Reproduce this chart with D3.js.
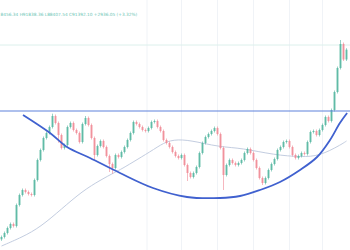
<!DOCTYPE html>
<html><head><meta charset="utf-8">
<script src="https://cdn.jsdelivr.net/npm/d3@7"></script>
<style>html,body{margin:0;padding:0;background:#fff;overflow:hidden}</style>
</head><body>
<svg id="c" width="350" height="250"></svg>
<script>
// ---- data ----
const closes = [35200,36400,37900,39100,38500,44800,47800,49300,48700,48100,47800,52300,58300,61300,64900,66400,68200,71500,69400,65800,
61900,62800,68200,69400,67300,66400,63700,69100,70900,68800,64900,59800,62500,64000,62200,59500,57100,55900,59800,59200,
60700,62200,64300,66400,69700,69100,68200,67300,67000,67900,69700,70000,68200,67000,64300,63400,62200,60700,59500,58900,
59800,56800,54400,53200,54400,56200,60400,63400,65200,66100,67000,67900,66100,61900,53800,56800,58300,57400,56800,57400,
58300,60400,61600,60400,58300,55900,52900,51400,52900,55300,57100,58600,61300,62200,63700,64000,62200,59800,58900,59500,
60400,60100,63700,66700,67000,65800,67300,68800,71200,70000,73300,78700,85900,93100,88456,91392];
const firstOpen = 34500;
const wickLows = [[36,54700],[37,54200],[62,52000],[74,49300],[87,50800],[19,63500],[31,58000]];
const wickHighs = [[17,72200],[28,71500],[113,94300],[115,91838]];
const maIdx = [0,7,13,20,27,33,38,40,45,51,55,60,67,73,80,91,100,106,113,115];
const maVal = [32500,35200,38200,43600,49000,52300,54700,55600,58300,61600,64000,64600,63400,62200,61900,59800,59200,59500,62800,64000];
const cupIdx = [7.17,16.17,21.83,29.5,39.5,50.5,61.83,72.83,79.5,86.17,92.83,99.5,105.2,109.5,112.8,115.2];
const cupVal = [71800,66400,62200,58900,54400,49900,47200,46900,47500,49300,51700,55300,59200,64300,69400,72400];
const neckline = 73000;
const priceLine = 92800;
const gridIdx = [48.5,60,72,84,96,107];
const header = "8456.34 H91838.36 L88407.54 C91392.10 +2936.05 (+3.32%)";

// ---- scales ----
const svg = d3.select("#c");
const x = d3.scaleLinear().domain([-0.5, 115.5]).range([0, 348]);
const y = d3.scaleLinear().domain([31300, 106300]).range([250, 0]);

// grid
svg.selectAll("line.grid").data(gridIdx).join("line")
  .attr("x1", d => x(d)).attr("x2", d => x(d)).attr("y1", 0).attr("y2", 250)
  .attr("stroke", "#f0f3f7").attr("stroke-width", 1);
svg.append("line").attr("x1", 0).attr("x2", 350).attr("y1", y(priceLine)).attr("y2", y(priceLine))
  .attr("stroke", "#dcf0ec").attr("stroke-width", 1);

// moving average
svg.append("path")
  .attr("d", d3.line().curve(d3.curveBasis).x(d => x(d[0])).y(d => y(d[1]))(maIdx.map((d, i) => [d, maVal[i]])))
  .attr("fill", "none").attr("stroke", "#c3cde0").attr("stroke-width", 1);

// candles
const lowMap = new Map(wickLows), highMap = new Map(wickHighs);
const candles = closes.map((c, i) => {
  const o = i === 0 ? firstOpen : closes[i - 1];
  return {i, o, c, hi: highMap.get(i), lo: lowMap.get(i)};
});
const up = "#52b59f", dn = "#f08894";
const g = svg.append("g");
g.selectAll("line.w").data(candles).join("line")
  .attr("x1", d => x(d.i)).attr("x2", d => x(d.i))
  .attr("y1", d => d.hi ? y(d.hi) : Math.min(y(d.o), y(d.c)) - 1.5)
  .attr("y2", d => d.lo ? y(d.lo) : Math.max(y(d.o), y(d.c)) + 1.5)
  .attr("stroke", d => d.c >= d.o ? up : dn).attr("stroke-width", 0.8).attr("opacity", 0.75);
g.selectAll("rect").data(candles).join("rect")
  .attr("x", d => x(d.i) - 1).attr("width", 2)
  .attr("y", d => Math.min(y(d.o), y(d.c)))
  .attr("height", d => Math.max(1, Math.abs(y(d.o) - y(d.c))))
  .attr("fill", d => d.c >= d.o ? up : dn).attr("opacity", 0.8);

// neckline
svg.append("line").attr("x1", 0).attr("x2", 350).attr("y1", y(neckline)).attr("y2", y(neckline))
  .attr("stroke", "#5f82dc").attr("stroke-width", 1.2);

// cup arc
svg.append("path")
  .attr("d", d3.line().curve(d3.curveCatmullRom).x(d => x(d[0])).y(d => y(d[1]))(cupIdx.map((d, i) => [d, cupVal[i]])))
  .attr("fill", "none").attr("stroke", "#4061cf").attr("stroke-width", 1.8);

// header
svg.append("text").attr("x", 0.5).attr("y", 16).text(header)
  .attr("font-family", "DejaVu Sans, sans-serif").attr("font-size", 4.3)
  .attr("fill", "#6cc5b5");
</script>
</body></html>
